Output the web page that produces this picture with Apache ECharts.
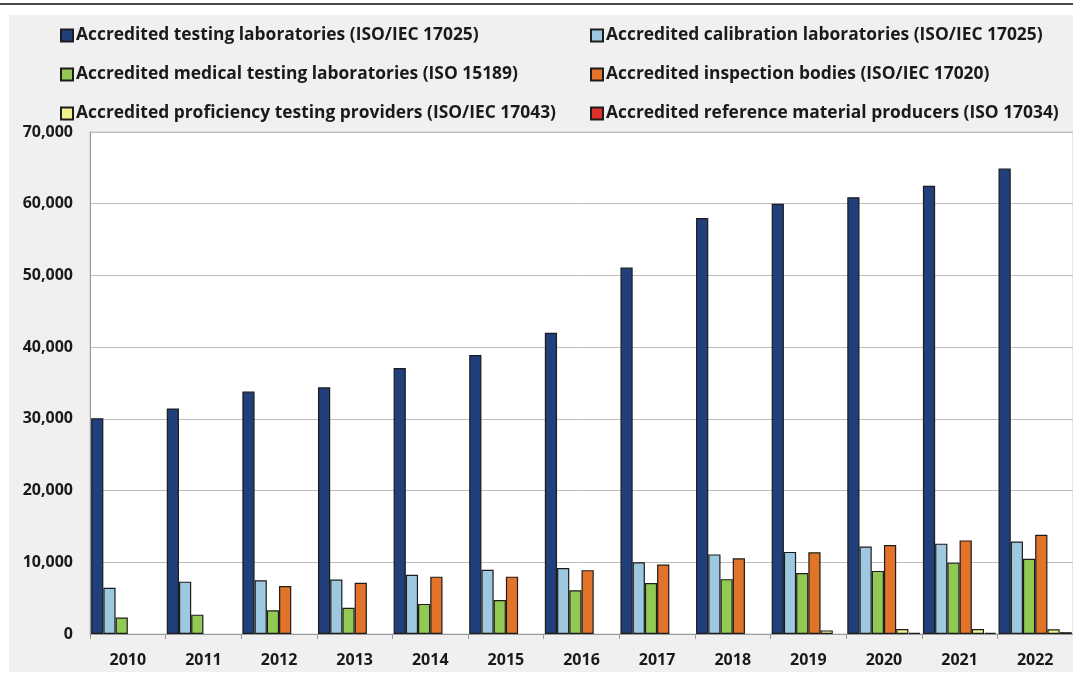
<!DOCTYPE html>
<html>
<head>
<meta charset="utf-8">
<script src="https://cdn.jsdelivr.net/npm/echarts@6/dist/echarts.min.js"></script>
<style>
  html, body { margin: 0; padding: 0; background: #ffffff; }
  #chart { width: 1073px; height: 677px; }
</style>
</head>
<body>
<div id="chart"></div>
<script>
// Accreditations by year and accreditation type
const years = ['2010', '2011', '2012', '2013', '2014', '2015', '2016', '2017', '2018', '2019', '2020', '2021', '2022'];

const testingLabs     = [30100, 31450, 33800, 34400, 37100, 38900, 42000, 51100, 58000, 60000, 60900, 62500, 64900];
const calibrationLabs = [6450, 7300, 7500, 7600, 8250, 8950, 9200, 10000, 11100, 11450, 12200, 12600, 12900];
const medicalLabs     = [2300, 2700, 3300, 3650, 4200, 4750, 6100, 7100, 7650, 8500, 8800, 9950, 10500];
const inspectionBodies = [null, null, 6700, 7150, 8000, 8000, 8900, 9700, 10550, 11400, 12400, 13050, 13850];
const ptProviders     = [null, null, null, null, null, null, null, null, null, 500, 700, 700, 650];
const rmProducers     = [null, null, null, null, null, null, null, null, null, null, 150, 150, 250];

const yTicks = { min: 0, max: 70000, step: 10000 };

const names = [
  'Accredited testing laboratories (ISO/IEC 17025)',
  'Accredited calibration laboratories (ISO/IEC 17025)',
  'Accredited medical testing laboratories (ISO 15189)',
  'Accredited inspection bodies (ISO/IEC 17020)',
  'Accredited proficiency testing providers (ISO/IEC 17043)',
  'Accredited reference material producers (ISO 17034)'
];
const seriesData = [testingLabs, calibrationLabs, medicalLabs, inspectionBodies, ptProviders, rmProducers];
const colors = ['#213f7a', '#9ec8e0', '#92c955', '#e2742a', '#f3f18c', '#e0302a'];

const FONT = 'Open Sans';
const textColor = '#1a1a1a';

const chart = echarts.init(document.getElementById('chart'), null, { renderer: 'canvas' });

const legendCommon = {
  orient: 'vertical',
  top: 24,
  padding: 0,
  icon: 'rect',
  itemWidth: 12,
  itemHeight: 12,
  itemGap: 16,
  textStyle: { fontFamily: FONT, fontWeight: 'bold', fontSize: 17.4, lineHeight: 23, color: textColor, padding: [0, 0, 0, -2] },
  selectedMode: false
};

chart.setOption({
  animation: false,
  backgroundColor: '#ffffff',
  graphic: [
    { type: 'rect', z: -10, shape: { x: 9, y: 15, width: 1064, height: 657 }, style: { fill: '#f0f0f0' } },
    { type: 'line', z: -10, shape: { x1: 0, y1: 4, x2: 1073, y2: 4 }, style: { stroke: '#4a4a4a', lineWidth: 2 } }
  ],
  legend: [
    Object.assign({ left: 60, data: [names[0], names[2], names[4]] }, legendCommon),
    Object.assign({ left: 590, data: [names[1], names[3], names[5]] }, legendCommon)
  ],
  grid: {
    left: 90,
    top: 132,
    height: 502,
    width: 993,
    show: true,
    backgroundColor: '#ffffff',
    borderColor: '#c9ced4',
    borderWidth: 1
  },
  xAxis: {
    type: 'category',
    data: years,
    axisLine: { lineStyle: { color: '#9a9a9a', width: 1 } },
    axisTick: { show: true, length: 5, lineStyle: { color: '#9a9a9a' } },
    axisLabel: { fontFamily: FONT, fontWeight: 'bold', fontSize: 16, color: textColor, margin: 18 }
  },
  yAxis: {
    type: 'value',
    min: yTicks.min,
    max: yTicks.max,
    interval: yTicks.step,
    axisLine: { show: true, lineStyle: { color: '#9a9a9a', width: 1 } },
    axisTick: { show: false },
    splitLine: { lineStyle: { color: '#bdbdbd', width: 1 } },
    axisLabel: {
      fontFamily: FONT, fontWeight: 'bold', fontSize: 16, color: textColor, margin: 17,
      formatter: v => v.toLocaleString('en-US')
    }
  },
  series: names.map((n, i) => ({
    name: n,
    type: 'bar',
    data: seriesData[i],
    barGap: '0%',
    barCategoryGap: '3%',
    itemStyle: { color: colors[i], borderColor: '#1c1c1c', borderWidth: 1.2 }
  }))
});
</script>
</body>
</html>
